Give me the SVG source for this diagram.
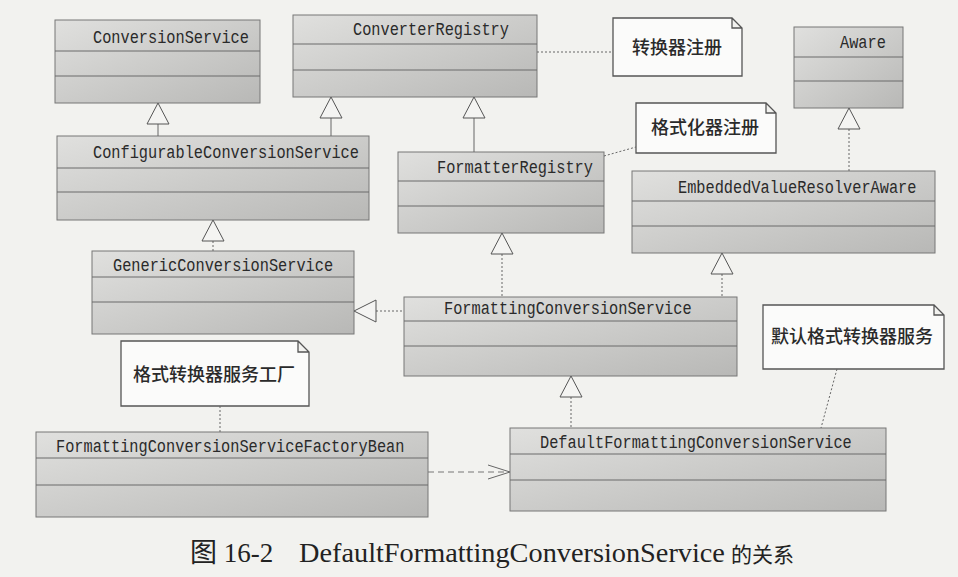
<svg xmlns="http://www.w3.org/2000/svg" width="958" height="577" viewBox="0 0 958 577">
<defs>
<linearGradient id="g" x1="0" y1="0" x2="1" y2="1">
<stop offset="0" stop-color="#e0e0de"/>
<stop offset="1" stop-color="#b8b8b6"/>
</linearGradient>
</defs>
<style>
.box{fill:url(#g);stroke:#777;stroke-width:1}
.dv{stroke:#6a6a6a;stroke-width:1}
.cls{font-family:"Liberation Mono",monospace;font-size:15.3px;fill:#2a2a2a}
.note{fill:#fbfbfa;stroke:#555;stroke-width:1.3}
.nt{font-family:"Noto Sans CJK SC",sans-serif;font-size:18px;font-weight:500;fill:#2a2a2a}
.solid{stroke:#666;stroke-width:1;fill:none}
.dot{stroke:#666;stroke-width:1;stroke-dasharray:2 2;fill:none}
.dash{stroke:#777;stroke-width:1;stroke-dasharray:6 4;fill:none}
.tri{fill:#f4f4f2;stroke:#555;stroke-width:1}
.cap{font-family:"Liberation Serif","Noto Sans CJK SC",serif;fill:#222}
</style>
<rect width="958" height="577" fill="#f2f2ef"/>

<g id="ConversionService">
<rect class="box" x="55" y="20" width="205" height="83"/>
<line class="dv" x1="55" y1="51" x2="260" y2="51"/>
<line class="dv" x1="55" y1="76" x2="260" y2="76"/>
<text class="cls" transform="translate(93,43) scale(1,1.25)">ConversionService</text>
</g>
<g id="ConverterRegistry">
<rect class="box" x="293" y="15" width="244" height="82"/>
<line class="dv" x1="293" y1="44" x2="537" y2="44"/>
<line class="dv" x1="293" y1="70" x2="537" y2="70"/>
<text class="cls" transform="translate(353,35) scale(1,1.25)">ConverterRegistry</text>
</g>
<g id="ConfigurableConversionService">
<rect class="box" x="57" y="136" width="312" height="84"/>
<line class="dv" x1="57" y1="168" x2="369" y2="168"/>
<line class="dv" x1="57" y1="192" x2="369" y2="192"/>
<text class="cls" transform="translate(93,158) scale(1,1.25)">ConfigurableConversionService</text>
</g>
<g id="FormatterRegistry">
<rect class="box" x="398" y="152" width="206" height="81"/>
<line class="dv" x1="398" y1="181" x2="604" y2="181"/>
<line class="dv" x1="398" y1="206" x2="604" y2="206"/>
<text class="cls" transform="translate(437,173) scale(1,1.25)">FormatterRegistry</text>
</g>
<g id="Aware">
<rect class="box" x="794" y="27" width="109" height="81"/>
<line class="dv" x1="794" y1="57" x2="903" y2="57"/>
<line class="dv" x1="794" y1="81" x2="903" y2="81"/>
<text class="cls" transform="translate(840,48) scale(1,1.25)">Aware</text>
</g>
<g id="EmbeddedValueResolverAware">
<rect class="box" x="632" y="171" width="303" height="82"/>
<line class="dv" x1="632" y1="201" x2="935" y2="201"/>
<line class="dv" x1="632" y1="226" x2="935" y2="226"/>
<text class="cls" transform="translate(678,193) scale(1,1.25)">EmbeddedValueResolverAware</text>
</g>
<g id="GenericConversionService">
<rect class="box" x="92" y="251" width="262" height="83"/>
<line class="dv" x1="92" y1="277" x2="354" y2="277"/>
<line class="dv" x1="92" y1="302" x2="354" y2="302"/>
<text class="cls" transform="translate(113,271) scale(1,1.25)">GenericConversionService</text>
</g>
<g id="FormattingConversionService">
<rect class="box" x="404" y="297" width="333" height="79"/>
<line class="dv" x1="404" y1="321" x2="737" y2="321"/>
<line class="dv" x1="404" y1="346" x2="737" y2="346"/>
<text class="cls" transform="translate(444,314) scale(1,1.25)">FormattingConversionService</text>
</g>
<g id="FormattingConversionServiceFactoryBean">
<rect class="box" x="36" y="432" width="392" height="85"/>
<line class="dv" x1="36" y1="458" x2="428" y2="458"/>
<line class="dv" x1="36" y1="485" x2="428" y2="485"/>
<text class="cls" transform="translate(56,452) scale(1,1.25)">FormattingConversionServiceFactoryBean</text>
</g>
<g id="DefaultFormattingConversionService">
<rect class="box" x="510" y="428" width="376" height="83"/>
<line class="dv" x1="510" y1="454" x2="886" y2="454"/>
<line class="dv" x1="510" y1="480" x2="886" y2="480"/>
<text class="cls" transform="translate(540,448) scale(1,1.25)">DefaultFormattingConversionService</text>
</g>

<g id="note-converter">
<path class="note" d="M613,18 H732 L742,28 V76 H613 Z M732,18 V28 H742"/>
<text class="nt" x="632" y="54">转换器注册</text>
</g>
<g id="note-formatter">
<path class="note" d="M636,103 H766 L776,113 V153 H636 Z M766,103 V113 H776"/>
<text class="nt" x="651" y="134">格式化器注册</text>
</g>
<g id="note-factory">
<path class="note" d="M121,341 H298 L309,352 V406 H121 Z M298,341 V352 H309"/>
<text class="nt" x="133" y="381">格式转换器服务工厂</text>
</g>
<g id="note-default">
<path class="note" d="M763,305 H934 L944,315 V369 H763 Z M934,305 V315 H944"/>
<text class="nt" x="771" y="343">默认格式转换器服务</text>
</g>

<g id="connectors">
<line class="solid" x1="158" y1="124" x2="158" y2="136"/>
<polygon class="tri" points="158,103 147,124 169,124"/>
<line class="solid" x1="331" y1="118" x2="331" y2="136"/>
<polygon class="tri" points="331,97 320,118 342,118"/>
<line class="solid" x1="474" y1="118" x2="474" y2="152"/>
<polygon class="tri" points="474,97 463,118 485,118"/>
<line class="dot" x1="849" y1="129" x2="849" y2="171"/>
<polygon class="tri" points="849,108 838,129 860,129"/>
<line class="dot" x1="213" y1="241" x2="213" y2="251"/>
<polygon class="tri" points="213,220 202,241 224,241"/>
<line class="dot" x1="502" y1="254" x2="502" y2="297"/>
<polygon class="tri" points="502,233 491,254 513,254"/>
<line class="dot" x1="722" y1="274" x2="722" y2="297"/>
<polygon class="tri" points="722,253 711,274 733,274"/>
<line class="dot" x1="376" y1="311" x2="404" y2="311"/>
<polygon class="tri" points="354,311 376,300 376,322"/>
<line class="dot" x1="571" y1="397" x2="571" y2="428"/>
<polygon class="tri" points="571,376 560,397 582,397"/>
<line class="dash" x1="428" y1="472" x2="509" y2="472"/>
<polyline class="solid" points="488,465 510,472 488,479"/>
<line class="dot" x1="537" y1="52" x2="613" y2="52"/>
<line class="dot" x1="604" y1="156" x2="636" y2="147"/>
<line class="dot" x1="220" y1="406" x2="220" y2="432"/>
<line class="dot" x1="837" y1="369" x2="821" y2="428"/>
</g>

<text class="cap" y="562"><tspan x="190" font-size="27">图 16-2</tspan><tspan x="299" font-size="28.3">DefaultFormattingConversionService</tspan><tspan x="731" font-size="21">的关系</tspan></text>
</svg>
